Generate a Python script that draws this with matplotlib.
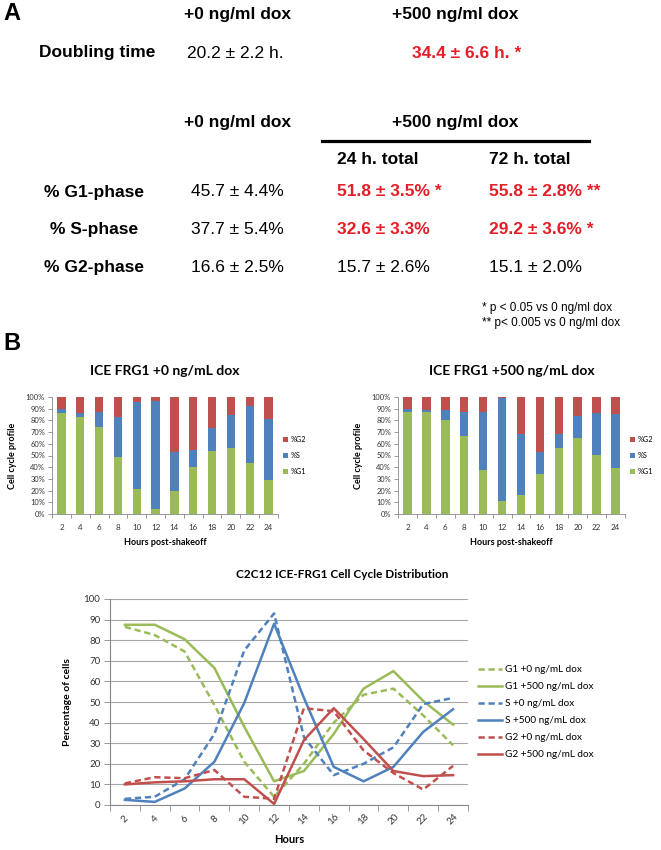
import matplotlib
matplotlib.use('Agg')
import matplotlib.pyplot as plt
from matplotlib.lines import Line2D

# data --------------------------------------------------------------
hours = ['2', '4', '6', '8', '10', '12', '14', '16', '18', '20', '22', '24']

g1_0 = [86.5, 82.5, 74.5, 48.5, 21, 4, 20, 40, 53.5, 56.5, 43.5, 29]
s_0 = [3, 4, 12.5, 34.5, 75, 93, 33, 14.5, 20, 28, 49, 52]
g2_0 = [10.5, 13.5, 13, 17, 4, 3, 47, 45.5, 26.5, 15.5, 7.5, 19]

g1_500 = [87.5, 87.5, 80.5, 66.5, 38, 11.5, 16.5, 34.5, 56.5, 65, 50.5, 39]
s_500 = [2.5, 1.5, 8, 21, 49.5, 88, 52, 18.5, 11.5, 18.5, 35.5, 46.5]
g2_500 = [10, 11, 11.5, 12.5, 12.5, 0.5, 31.5, 47, 32, 16.5, 14, 14.5]

doubling = ['20.2 ± 2.2 h.', '34.4 ± 6.6 h. *']
phase_rows = ['% G1-phase', '% S-phase', '% G2-phase']
phase_0 = ['45.7 ± 4.4%', '37.7 ± 5.4%', '16.6 ± 2.5%']
phase_24 = ['51.8 ± 3.5% *', '32.6 ± 3.3%', '15.7 ± 2.6%']
phase_72 = ['55.8 ± 2.8% **', '29.2 ± 3.6% *', '15.1 ± 2.0%']
red_24 = [True, True, False]
red_72 = [True, True, False]

GREEN = '#9BBB59'
BLUE = '#4F81BD'
RED = '#C0504D'
TRED = '#E41E26'
GRID = '#A6A6A6'

W, H = 661, 850
fig = plt.figure(figsize=(W / 100, H / 100), dpi=100)
fig.patch.set_facecolor('white')


def px_axes(l, t, r, b):
    return fig.add_axes([l / W, 1 - b / H, (r - l) / W, (b - t) / H])


def ftext(x, y, s, **kw):
    kw.setdefault('va', 'center')
    return fig.text(x / W, 1 - y / H, s, **kw)


# panel A ---------------------------------------------------------------
fa = ['Liberation Sans', 'DejaVu Sans']
ftext(3, 14, 'A', family=fa, fontsize=17, fontweight='bold')
ftext(3, 343, 'B', family=fa, fontsize=17, fontweight='bold')

ftext(238, 15, '+0 ng/ml dox', family=fa, fontsize=12.5, fontweight='bold', ha='center')
ftext(455, 15, '+500 ng/ml dox', family=fa, fontsize=12.5, fontweight='bold', ha='center')
ftext(39, 53, 'Doubling time', family=fa, fontsize=12.5, fontweight='bold')
ftext(187, 53, doubling[0], family=fa, fontsize=12.5)
ftext(412, 53, doubling[1], family=fa, fontsize=12.5, fontweight='bold', color=TRED)

ftext(238, 123, '+0 ng/ml dox', family=fa, fontsize=12.5, fontweight='bold', ha='center')
ftext(455, 123, '+500 ng/ml dox', family=fa, fontsize=12.5, fontweight='bold', ha='center')
fig.add_artist(Line2D([322 / W, 589 / W], [1 - 141 / H, 1 - 141 / H], color='black', lw=2.3))
ftext(337, 159, '24 h. total', family=fa, fontsize=12.5, fontweight='bold')
ftext(489, 159, '72 h. total', family=fa, fontsize=12.5, fontweight='bold')

row_y = [192, 230, 267]
for i, y in enumerate(row_y):
    ftext(94, y, phase_rows[i], family=fa, fontsize=12.5, fontweight='bold', ha='center')
    ftext(237, y, phase_0[i], family=fa, fontsize=12.5, ha='center')
    if red_24[i]:
        ftext(337, y, phase_24[i], family=fa, fontsize=12.5, fontweight='bold', color=TRED)
    else:
        ftext(337, y, phase_24[i], family=fa, fontsize=12.5)
    if red_72[i]:
        ftext(489, y, phase_72[i], family=fa, fontsize=12.5, fontweight='bold', color=TRED)
    else:
        ftext(489, y, phase_72[i], family=fa, fontsize=12.5)

ftext(482, 308, '* p < 0.05 vs 0 ng/ml dox', family=fa, fontsize=8.5)
ftext(482, 323, '** p< 0.005 vs 0 ng/ml dox', family=fa, fontsize=8.5)

# panel B bars ----------------------------------------------------------
fb = ['Lato', 'DejaVu Sans']
x = list(range(len(hours)))


def bar_panel(ax, g1, s, g2, title):
    bot2 = [a + b for a, b in zip(g1, s)]
    hg1 = ax.bar(x, g1, width=0.45, color=GREEN)
    hs = ax.bar(x, s, width=0.45, bottom=g1, color=BLUE)
    hg2 = ax.bar(x, g2, width=0.45, bottom=bot2, color=RED)
    ax.set_xlim(-0.5, len(hours) - 0.5)
    ax.set_ylim(0, 100)
    ax.set_yticks(range(0, 101, 10))
    ax.set_yticklabels([f'{v}%' for v in range(0, 101, 10)], family=fb, fontsize=5.4, color='#333333')
    ax.set_xticks(x)
    ax.set_xticklabels(hours, family=fb, fontsize=5.8, color='#333333')
    ax.set_xticks([i - 0.5 for i in range(len(hours) + 1)], minor=True)
    ax.tick_params(axis='x', which='major', length=0, pad=7)
    ax.tick_params(axis='x', which='minor', length=3, color='#888888', width=0.6)
    ax.tick_params(axis='y', length=3, color='#888888', width=0.6, pad=2)
    for sp in ['top', 'right']:
        ax.spines[sp].set_visible(False)
    for sp in ['left', 'bottom']:
        ax.spines[sp].set_color('#888888')
        ax.spines[sp].set_linewidth(0.6)
    ax.set_title(title, family=fb, fontsize=10, fontweight='bold', pad=16)
    ax.set_ylabel('Cell cycle profile', family=fb, fontsize=6.5, fontweight='bold', labelpad=6)
    ax.set_xlabel('Hours post-shakeoff', family=fb, fontsize=6.5, fontweight='bold', labelpad=5)
    ax.legend([hg2, hs, hg1], ['%G2', '%S', '%G1'], loc='center left', bbox_to_anchor=(1.0, 0.5),
              frameon=False, prop={'family': fb, 'size': 5.2}, handlelength=0.7, handleheight=0.7,
              handletextpad=0.3, labelspacing=1.2, borderaxespad=0.3)


ax1 = px_axes(52, 397, 278, 514)
bar_panel(ax1, g1_0, s_0, g2_0, 'ICE FRG1 +0 ng/mL dox')
ax2 = px_axes(398, 397, 625, 514)
bar_panel(ax2, g1_500, s_500, g2_500, 'ICE FRG1 +500 ng/mL dox')

# line chart ------------------------------------------------------------
ax3 = px_axes(110, 599, 468, 805)
dash = (2.5, 1.5)
ax3.plot(x, g1_0, color=GREEN, lw=1.8, dashes=dash, label='G1 +0 ng/mL dox')
ax3.plot(x, g1_500, color=GREEN, lw=1.8, label='G1 +500 ng/mL dox')
ax3.plot(x, s_0, color=BLUE, lw=1.8, dashes=dash, label='S +0 ng/mL dox')
ax3.plot(x, s_500, color=BLUE, lw=1.8, label='S +500 ng/mL dox')
ax3.plot(x, g2_0, color=RED, lw=1.8, dashes=dash, label='G2 +0 ng/mL dox')
ax3.plot(x, g2_500, color=RED, lw=1.8, label='G2 +500 ng/mL dox')
ax3.set_xlim(-0.5, len(hours) - 0.5)
ax3.set_ylim(0, 100)
ax3.set_yticks(range(0, 101, 10))
ax3.set_yticklabels([str(v) for v in range(0, 101, 10)], family=fb, fontsize=7, color='#333333')
ax3.yaxis.grid(True, color=GRID, lw=0.8)
ax3.set_axisbelow(True)
ax3.set_xticks(x)
ax3.set_xticklabels(hours, family=fb, fontsize=7, color='#333333', rotation=45,
                    ha='center', va='center', rotation_mode='anchor')
ax3.set_xticks([i - 0.5 for i in range(len(hours) + 1)], minor=True)
ax3.tick_params(axis='x', which='major', length=0, pad=10)
ax3.tick_params(axis='x', which='minor', length=4, color='#888888', width=0.6)
ax3.tick_params(axis='y', length=4, color='#888888', width=0.6, pad=3)
for sp in ['top', 'right']:
    ax3.spines[sp].set_visible(False)
for sp in ['left', 'bottom']:
    ax3.spines[sp].set_color('#888888')
    ax3.spines[sp].set_linewidth(0.8)
ax3.set_ylabel('Percentage of cells', family=fb, fontsize=7.5, fontweight='bold', labelpad=8)
ax3.set_xlabel('Hours', family=fb, fontsize=8, fontweight='bold', labelpad=6)
ftext(342, 575, 'C2C12 ICE-FRG1 Cell Cycle Distribution', family=fb, fontsize=8.5,
      fontweight='bold', ha='center')
ax3.legend(loc='center left', bbox_to_anchor=(469 / W, 1 - 712 / H), bbox_transform=fig.transFigure,
           frameon=False, prop={'family': fb, 'size': 7.2}, handlelength=2.4, handletextpad=0.3,
           labelspacing=0.8)

fig.savefig('out.png', dpi=100, facecolor='white')
